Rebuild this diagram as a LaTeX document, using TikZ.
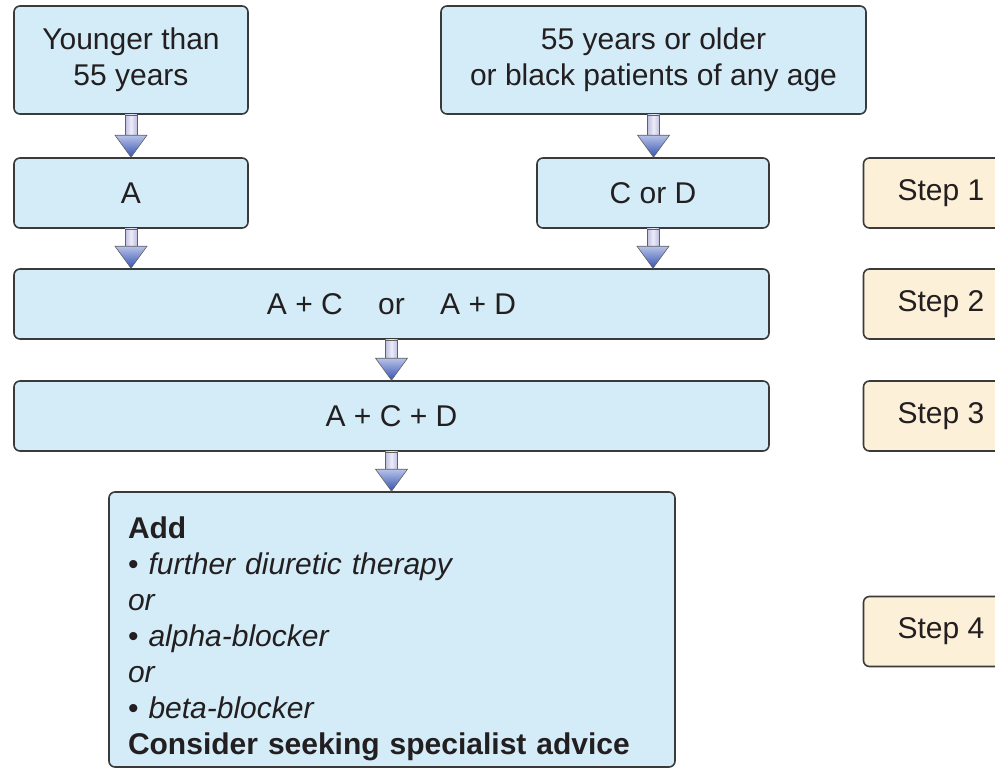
\documentclass[tikz,border=0pt]{standalone}
\usepackage{fontspec}
\setmainfont{Liberation Sans}
\usetikzlibrary{calc}
\definecolor{boxfill}{HTML}{D3ECF8}
\definecolor{stepfill}{HTML}{FDF0D9}
\definecolor{edge}{HTML}{3A3A3A}
\definecolor{txt}{HTML}{231F20}
\definecolor{shaftA}{HTML}{ECECF8}
\definecolor{shaftB}{HTML}{BCBEE0}
\definecolor{headA}{HTML}{B7C2EA}
\definecolor{headB}{HTML}{3553AE}
\tikzset{
  box/.style={draw=edge, line width=1.6pt, fill=boxfill, rounded corners=6pt,
    text=txt, font=\fontsize{30}{36}\selectfont, align=center, inner sep=0pt},
  stepbox/.style={draw=edge, line width=1.6pt, fill=stepfill, rounded corners=6pt,
    text=txt, font=\fontsize{30}{36}\selectfont, inner sep=0pt,
    minimum width=155pt, minimum height=70pt},
}
\newcommand{\blockarr}[2]{%
  \path let \p1=(#1.south), \p2=($(#2.north -| #1.south)$) in
    [draw=edge!80, line width=0.6pt, left color=shaftB, right color=shaftB, middle color=shaftA]
    ({\x1-6pt},{\y1}) -- ({\x1+6pt},{\y1}) -- ({\x1+6pt},{\y2+22pt}) -- ({\x1-6pt},{\y2+22pt}) -- cycle;
  \path let \p1=(#1.south), \p2=($(#2.north -| #1.south)$) in
    [draw=edge!80, line width=0.6pt, top color=headA, bottom color=headB]
    ({\x1-16pt},{\y2+22pt}) -- ({\x1+16pt},{\y2+22pt}) -- ({\x1},{\y2}) -- cycle;
}
\begin{document}
\begin{tikzpicture}[x=1pt,y=-1pt]
\useasboundingbox (0,0) rectangle (995,768);
\clip (0,0) rectangle (995,768);
\node[box, minimum width=234pt, minimum height=108pt] (young) at (131,60) {Younger than\\55 years};
\node[box, minimum width=425pt, minimum height=108pt] (old) at (653.5,60) {55 years or older\\or black patients of any age};
\node[box, minimum width=234pt, minimum height=70pt] (a) at (131,193) {A};
\node[box, minimum width=232pt, minimum height=70pt] (cd) at (653,193) {C or D};
\node[box, minimum width=755pt, minimum height=70pt] (ac) at (391.5,304) {A + C\hspace{0.9em} or\hspace{0.9em} A + D};
\node[box, minimum width=755pt, minimum height=70pt] (acd) at (391.5,416) {A + C + D};
\node[box, minimum width=566pt, minimum height=275pt, text width=528pt, align=left] (add) at (392,629.5)
 {\rule{0pt}{40pt}\textbf{Add}\\
  • \textit{further diuretic therapy}\\
  \textit{or}\\
  • \textit{alpha-blocker}\\
  \textit{or}\\
  • \textit{beta-blocker}\\
  \textbf{Consider seeking specialist advice}};
\node[stepbox] (s1) at (941,193) {Step 1};
\node[stepbox] (s2) at (941,304) {Step 2};
\node[stepbox] (s3) at (941,416) {Step 3};
\node[stepbox] (s4) at (941,631.5) {Step 4};
\blockarr{young}{a}
\blockarr{old}{cd}
\blockarr{a}{ac}
\blockarr{cd}{ac}
\blockarr{ac}{acd}
\blockarr{acd}{add}
\end{tikzpicture}
\end{document}
